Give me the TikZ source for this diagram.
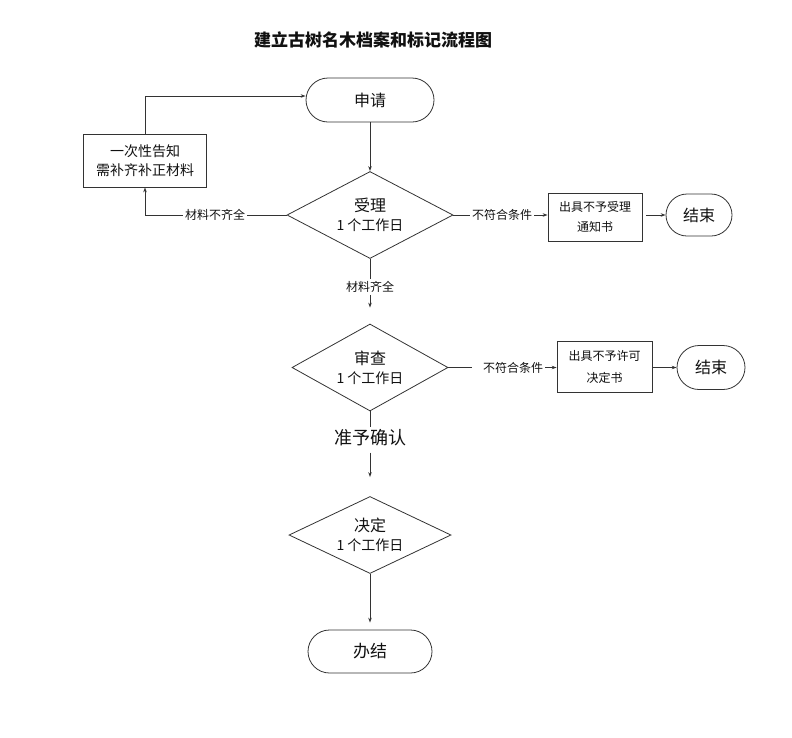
\documentclass[tikz,border=0pt]{standalone}
\usepackage{fontspec}
\setmainfont{Noto Sans CJK SC}
\usetikzlibrary{shapes.geometric,shapes.misc,arrows.meta}
\definecolor{ln}{HTML}{333333}
\definecolor{tx}{HTML}{111111}
\tikzset{
  every node/.style={text=tx, align=center},
  base/.style={draw=ln, line width=0.8pt},
  term/.style={base, rounded rectangle, inner sep=0pt},
  box/.style={base, rectangle, inner sep=0pt},
  dia/.style={base, diamond, aspect=2, inner sep=0pt},
  lbl/.style={fill=white, inner sep=2pt, font=\fontsize{12}{14}\selectfont},
  con/.style={draw=ln, line width=0.8pt},
  arr/.style={con, -{Stealth[length=5pt,width=3.5pt]}}
}
\begin{document}
\begin{tikzpicture}[x=1pt,y=-1pt]
\useasboundingbox[fill=white] (0,0) rectangle (792,737);
\node[font=\fontsize{17}{20}\selectfont\bfseries] (title) at (373,40) {建立古树名木档案和标记流程图};

\node[term, minimum width=128, minimum height=44, font=\fontsize{16}{18}\selectfont] (s) at (370,100) {申请};
\node[box, minimum width=123, minimum height=53, font=\fontsize{14}{19}\selectfont] (bl) at (145,160.5) {一次性告知\\需补齐补正材料};
\node[dia, minimum width=166, minimum height=87, font=\fontsize{14}{19}\selectfont] (d1) at (370,215) {{\fontsize{16}{19}\selectfont 受理}\\1 个工作日};
\node[box, minimum width=94, minimum height=48, font=\fontsize{12}{20}\selectfont] (b1) at (595,217) {出具不予受理\\通知书};
\node[term, minimum width=66, minimum height=42, font=\fontsize{16}{18}\selectfont] (e1) at (699,215) {结束};

\node[lbl] (l1) at (215,215) {材料不齐全};
\node[lbl] (l2) at (502,215) {不符合条件};
\node[lbl] (l3) at (370,287) {材料齐全};

\node[dia, minimum width=156, minimum height=87, font=\fontsize{14}{19}\selectfont] (d2) at (370,367.5) {{\fontsize{16}{19}\selectfont 审查}\\1 个工作日};
\node[lbl] (l4) at (513,367.5) {不符合条件};
\node[box, minimum width=95, minimum height=51, font=\fontsize{12}{22}\selectfont] (b2) at (604.5,366.5) {出具不予许可\\决定书};
\node[term, minimum width=68, minimum height=44, font=\fontsize{16}{18}\selectfont] (e2) at (711,367.5) {结束};

\node[lbl, font=\fontsize{18}{20}\selectfont] (l5) at (370,438) {准予确认};
\node[dia, minimum width=162, minimum height=77, font=\fontsize{14}{19}\selectfont] (d3) at (370,535) {{\fontsize{16}{19}\selectfont 决定}\\1 个工作日};
\node[term, minimum width=124, minimum height=43, font=\fontsize{17}{19}\selectfont] (f) at (370,651.5) {办结};

\draw[arr] (s.south) -- (d1.north);
\draw[con] (d1.west) -- (l1.east);
\draw[arr] (l1.west) -| (bl.south);
\draw[arr] (bl.north) |- ([yshift=4pt]s.west);
\draw[con] (d1.east) -- (l2.west);
\draw[arr] (l2.east) -- (b1.west |- l2.east);
\draw[arr, shorten <=4pt] (b1.east |- e1.west) -- (e1.west);
\draw[con] (d1.south) -- (l3.north);
\draw[arr, shorten >=16pt] (l3.south) -- (d2.north);
\draw[con, shorten >=9pt] (d2.east) -- (l4.west);
\draw[arr] (l4.east) -- (b2.west |- l4.east);
\draw[arr] (b2.east |- e2.west) -- (e2.west);
\draw[con] (d2.south) -- (l5.north);
\draw[arr, shorten <=4pt, shorten >=19pt] (l5.south) -- (d3.north);
\draw[arr, shorten >=7pt] (d3.south) -- (f.north);
\end{tikzpicture}
\end{document}
